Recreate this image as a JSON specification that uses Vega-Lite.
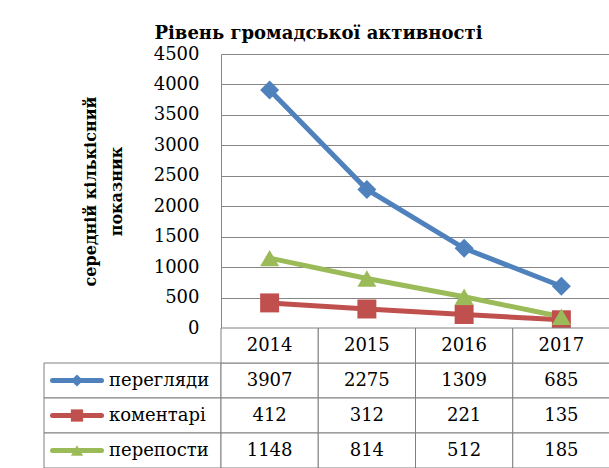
{
  "$schema": "https://vega.github.io/schema/vega-lite/v6.json",
  "padding": {"left": 42, "top": 25, "right": 0, "bottom": 0},
  "autosize": {"type": "pad"},
  "background": "white",
  "title": {
    "text": "Рівень громадської активності",
    "font": "DejaVu Serif",
    "fontSize": 18,
    "fontWeight": "bold",
    "color": "black",
    "anchor": "start",
    "dx": 112,
    "offset": 2
  },
  "datasets": {
    "activity": [
      {"series": "перегляди", "year": "2014", "value": 3907},
      {"series": "перегляди", "year": "2015", "value": 2275},
      {"series": "перегляди", "year": "2016", "value": 1309},
      {"series": "перегляди", "year": "2017", "value": 685},
      {"series": "коментарі", "year": "2014", "value": 412},
      {"series": "коментарі", "year": "2015", "value": 312},
      {"series": "коментарі", "year": "2016", "value": 221},
      {"series": "коментарі", "year": "2017", "value": 135},
      {"series": "перепости", "year": "2014", "value": 1148},
      {"series": "перепости", "year": "2015", "value": 814},
      {"series": "перепости", "year": "2016", "value": 512},
      {"series": "перепости", "year": "2017", "value": 185}
    ]
  },
  "columns": 2,
  "spacing": 0,
  "bounds": "flush",
  "align": "each",
  "concat": [
    {
      "width": 177,
      "height": 274,
      "data": {"values": []},
      "mark": "point",
      "encoding": {}
    },
    {
      "width": 389,
      "height": 274,
      "data": {"name": "activity"},
      "encoding": {
        "x": {"field": "year", "type": "ordinal", "axis": null, "scale": {"type": "point", "padding": 0.5}},
        "y": {
          "field": "value",
          "type": "quantitative",
          "scale": {"domain": [0, 4500], "nice": false},
          "axis": {
            "values": [0, 500, 1000, 1500, 2000, 2500, 3000, 3500, 4000, 4500],
            "format": "d",
            "title": ["середній кількісний", "показник"],
            "titleFont": "DejaVu Serif",
            "titleFontSize": 16,
            "titleFontWeight": "bold",
            "titleColor": "black",
            "titlePadding": 29,
            "titleLineHeight": 26,
            "labelFont": "DejaVu Serif",
            "labelFontSize": 18,
            "labelColor": "black",
            "labelPadding": 22,
            "ticks": false,
            "domainColor": "#868686",
            "domainWidth": 1,
            "gridColor": "#868686",
            "gridWidth": 1,
            "gridOpacity": 1
          }
        },
        "color": {
          "field": "series",
          "type": "nominal",
          "scale": {"domain": ["перегляди", "коментарі", "перепости"], "range": ["#4F81BD", "#C0504D", "#9BBB59"]},
          "legend": null
        }
      },
      "layer": [
        {"mark": {"type": "line", "strokeWidth": 5}},
        {
          "mark": {"type": "point", "filled": true, "opacity": 1, "size": 360},
          "encoding": {
            "shape": {
              "field": "series",
              "type": "nominal",
              "scale": {"domain": ["перегляди", "коментарі", "перепости"], "range": ["diamond", "square", "triangle-up"]},
              "legend": null
            }
          }
        }
      ]
    },
    {
      "width": 177,
      "height": 140,
      "data": {"name": "activity"},
      "transform": [{"filter": "datum.year === '2014'"}],
      "encoding": {
        "y": {
          "field": "series",
          "type": "nominal",
          "scale": {"type": "band", "domain": ["рік", "перегляди", "коментарі", "перепости"], "paddingInner": 0, "paddingOuter": 0},
          "axis": null
        }
      },
      "layer": [
        {"mark": {"type": "rect", "fill": "white", "stroke": "#808080", "strokeWidth": 1}},
        {
          "mark": {"type": "point", "shape": "M-1,0L1,0", "size": 2401, "strokeWidth": 5, "strokeCap": "round", "filled": false, "opacity": 1, "xOffset": -55.5},
          "encoding": {
            "stroke": {"field": "series", "type": "nominal", "scale": {"domain": ["перегляди", "коментарі", "перепости"], "range": ["#4F81BD", "#C0504D", "#9BBB59"]}, "legend": null}
          }
        },
        {
          "mark": {"type": "point", "filled": true, "opacity": 1, "size": 150, "xOffset": -55.5},
          "encoding": {
            "color": {"field": "series", "type": "nominal", "scale": {"domain": ["перегляди", "коментарі", "перепости"], "range": ["#4F81BD", "#C0504D", "#9BBB59"]}, "legend": null},
            "shape": {"field": "series", "type": "nominal", "scale": {"domain": ["перегляди", "коментарі", "перепости"], "range": ["diamond", "square", "triangle-up"]}, "legend": null}
          }
        },
        {
          "mark": {"type": "text", "align": "left", "baseline": "middle", "font": "DejaVu Serif", "fontSize": 18, "color": "black", "dx": -23.5},
          "encoding": {"text": {"field": "series"}}
        }
      ]
    },
    {
      "width": 389,
      "height": 140,
      "data": {"name": "activity"},
      "encoding": {
        "x": {"field": "year", "type": "ordinal", "axis": null, "scale": {"type": "band", "paddingInner": 0, "paddingOuter": 0}},
        "y": {
          "field": "series",
          "type": "nominal",
          "scale": {"type": "band", "domain": ["рік", "перегляди", "коментарі", "перепости"], "paddingInner": 0, "paddingOuter": 0},
          "axis": null
        }
      },
      "layer": [
        {"mark": {"type": "rect", "fill": "white", "stroke": "#808080", "strokeWidth": 1}},
        {
          "transform": [{"filter": "datum.series === 'перегляди'"}],
          "mark": {"type": "rect", "fill": "white", "stroke": "#808080", "strokeWidth": 1},
          "encoding": {"y": {"datum": "рік", "type": "nominal"}}
        },
        {
          "transform": [{"filter": "datum.series === 'перегляди'"}],
          "mark": {"type": "text", "baseline": "middle", "font": "DejaVu Serif", "fontSize": 18, "color": "black"},
          "encoding": {"y": {"datum": "рік", "type": "nominal"}, "text": {"field": "year"}}
        },
        {
          "mark": {"type": "text", "baseline": "middle", "font": "DejaVu Serif", "fontSize": 18, "color": "black"},
          "encoding": {"text": {"field": "value", "type": "quantitative", "format": "d"}}
        }
      ]
    }
  ],
  "config": {
    "view": {"stroke": null}
  }
}
